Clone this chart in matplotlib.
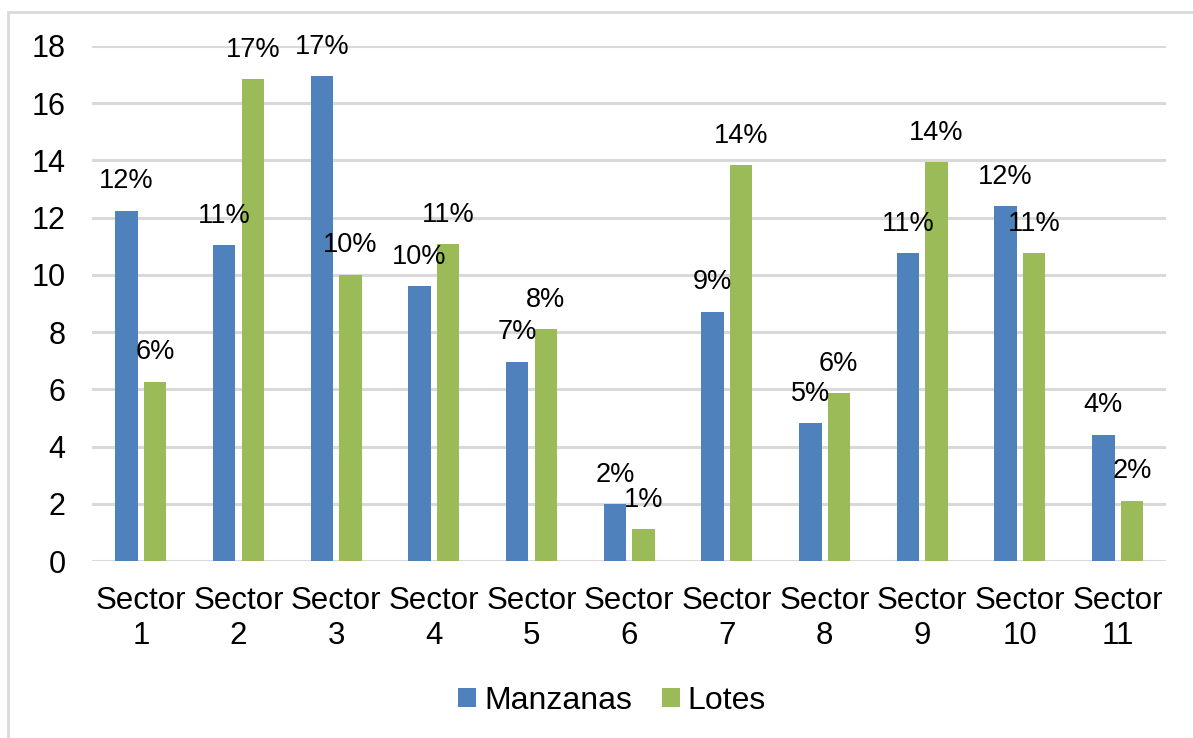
import matplotlib
matplotlib.use("Agg")
import matplotlib.pyplot as plt
import matplotlib.patches as mpatches
import numpy as np

# Data (percent of total)
sectors = ["Sector\n1", "Sector\n2", "Sector\n3", "Sector\n4", "Sector\n5", "Sector\n6",
           "Sector\n7", "Sector\n8", "Sector\n9", "Sector\n10", "Sector\n11"]
manzanas = [12.25, 11.04, 16.94, 9.60, 6.97, 1.99, 8.72, 4.81, 10.76, 12.41, 4.42]
lotes = [6.27, 16.84, 10.01, 11.08, 8.10, 1.13, 13.85, 5.88, 13.93, 10.76, 2.11]
y_ticks = [0, 2, 4, 6, 8, 10, 12, 14, 16, 18]

blue = "#4F81BD"
green = "#9BBB59"
grid_color = "#D9D9D9"

plt.rcParams["font.family"] = ["Liberation Sans", "DejaVu Sans"]

fig = plt.figure(figsize=(11.93, 7.38), dpi=100)
ax = fig.add_axes([0.0771, 0.2398, 0.9006, 0.6979])

# outer chart frame (cut off on the right and bottom like the reference)
W, H = 1193, 738
frame = mpatches.Rectangle((8 / W, -0.1), 1.2, 1 - 12 / H + 0.1, transform=fig.transFigure,
                           fill=False, edgecolor="#D9D9D9", linewidth=2, zorder=0)
fig.patches.append(frame)

x = np.arange(len(sectors))
width = 0.23
offset = 0.146

bars_m = ax.bar(x - offset, manzanas, width, color=blue, label="Manzanas", zorder=3)
bars_l = ax.bar(x + offset, lotes, width, color=green, label="Lotes", zorder=3)

for bars, vals in ((bars_m, manzanas), (bars_l, lotes)):
    for b, v in zip(bars, vals):
        ax.annotate("{:.0f}%".format(v), (b.get_x() + b.get_width() / 2, v),
                    xytext=(0, 21), textcoords="offset points",
                    ha="center", va="center", fontsize=19.5, color="#000000", zorder=4)

ax.set_xlim(-0.5, len(sectors) - 0.5)
ax.set_ylim(0, 18)
ax.set_yticks(y_ticks)
ax.set_xticks(x)
ax.set_xticklabels(sectors, fontsize=22.5, linespacing=1.2)
ax.tick_params(axis="y", labelsize=22, length=0, pad=19)
ax.tick_params(axis="x", length=0, pad=18)
ax.yaxis.grid(True, color=grid_color, linewidth=2.2, zorder=0)
ax.set_axisbelow(True)
for s in ax.spines.values():
    s.set_visible(False)

ax.legend(loc="center", bbox_to_anchor=(0.4842, -0.272), ncol=2, frameon=False,
          fontsize=23, handlelength=0.55, handleheight=0.55, handletextpad=0.25,
          columnspacing=0.95)

fig.savefig("out.png", dpi=100, facecolor="white")
